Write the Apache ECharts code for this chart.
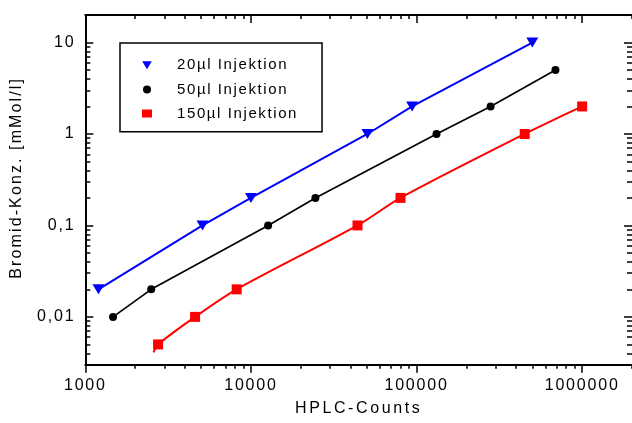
<!DOCTYPE html>
<html><head><meta charset="utf-8">
<script src="https://cdn.jsdelivr.net/npm/echarts@6/dist/echarts.min.js"></script>
<style>html,body{margin:0;padding:0;background:#fff}#c{width:632px;height:423px}</style>
</head><body><div id="c"></div>
<script>
// ---- data ----
const s20Name = '20µl Injektion';
const s20Counts = [1200, 5100, 10000, 50500, 94000, 500000];
const s20Conc   = [0.02, 0.1, 0.2, 1, 2, 10];

const s50Name = '50µl Injektion';
const s50Counts = [1470, 2500, 12700, 24500, 132000, 280000, 690000];
const s50Conc   = [0.01, 0.02, 0.1, 0.2, 1, 2, 5];

const s150Name = '150µl Injektion';
const s150Counts = [2750, 4600, 8200, 44000, 80000, 450000, 1000000];
const s150Conc   = [0.005, 0.01, 0.02, 0.1, 0.2, 1, 2];
// fitted curve for 150µl (starts slightly below the first point)
const s150FitCounts = [2580, 2750, 4600, 8200, 44000, 80000, 450000, 1000000];
const s150FitConc   = [0.0041, 0.005, 0.01, 0.02, 0.1, 0.2, 1, 2];

const xTickValues = [1000, 10000, 100000, 1000000];
const xTickLabels = ['1000', '10000', '100000', '1000000'];
const yTickValues = [0.01, 0.1, 1, 10];
const yTickLabels = ['0,01', '0,1', '1', '10'];

const xTitle = 'HPLC-Counts';
const yTitle = 'Bromid-Konz. [mMol/l]';

// ---- letter spacing like the reference typography ----
(function () {
  const proto = CanvasRenderingContext2D.prototype;
  const d = Object.getOwnPropertyDescriptor(proto, 'font');
  if (!d || !('letterSpacing' in proto)) return;
  const map = { '15': '1.6px', '16': '1.8px', '16.01': '2.6px', '16.02': '2.1px' };
  Object.defineProperty(proto, 'font', {
    configurable: true,
    get() { return d.get.call(this); },
    set(v) {
      d.set.call(this, v);
      const m = /([\d.]+)px/.exec(v);
      this.letterSpacing = (m && map[m[1]]) || '0px';
    }
  });
})();

const X_MIN = 1000, X_MAX = 2000000, Y_MIN = 0.003, Y_MAX = 20;
function minorTicks(lo, hi) {
  const out = [];
  for (let d = Math.pow(10, Math.floor(Math.log10(lo))); d < hi * 10; d *= 10) {
    for (let k = 2; k <= 9; k++) {
      const v = +(k * d).toPrecision(6);
      if (v >= lo && v <= hi) out.push(v);
    }
  }
  return out;
}
const xMinor = minorTicks(X_MIN, X_MAX);
const yMinor = minorTicks(Y_MIN, Y_MAX);

function lookup(vals, labels, v) {
  for (let i = 0; i < vals.length; i++) {
    if (Math.abs(Math.log10(v / vals[i])) < 1e-6) return labels[i];
  }
  return '';
}

const FONT = 'Liberation Sans';
const tickLine = { color: '#000', width: 1.5 };

function axisPair(kind, position, inside, withLabels) {
  const isX = kind === 'x';
  const lo = isX ? X_MIN : Y_MIN, hi = isX ? X_MAX : Y_MAX;
  const major = isX ? xTickValues : yTickValues;
  const minor = isX ? xMinor : yMinor;
  const main = {
    type: 'log', position, min: lo, max: hi,
    axisLine: { show: position !== 'right', lineStyle: { color: '#000', width: 2 } },
    axisTick: { show: true, inside, length: 8, customValues: major, lineStyle: tickLine },
    axisLabel: withLabels ? {
      show: true, customValues: major, margin: isX ? 12 : 10,
      fontFamily: FONT, fontSize: 16, color: '#000',
      formatter: (v) => isX ? lookup(xTickValues, xTickLabels, v) : lookup(yTickValues, yTickLabels, v)
    } : { show: false },
    splitLine: { show: false }, minorTick: { show: false }, minorSplitLine: { show: false }
  };
  const sub = {
    type: 'log', position, min: lo, max: hi,
    axisLine: { show: false },
    axisTick: { show: true, inside, length: isX ? 4 : 5, customValues: minor, lineStyle: tickLine },
    axisLabel: { show: false },
    splitLine: { show: false }, minorTick: { show: false }
  };
  return [main, sub];
}

const xAxes = [...axisPair('x', 'bottom', false, true), ...axisPair('x', 'top', true, false)];
const yAxes = [...axisPair('y', 'left', true, true), ...axisPair('y', 'right', true, false)];
Object.assign(xAxes[0], {
  name: xTitle, nameLocation: 'middle', nameGap: 33,
  nameTextStyle: { fontFamily: FONT, fontSize: 16.01, color: '#000' }
});
Object.assign(yAxes[0], {
  name: yTitle, nameLocation: 'middle', nameGap: 50,
  nameTextStyle: { fontFamily: FONT, fontSize: 16.02, color: '#000', padding: [0, 0, 0, 24] }
});

const pairs = (xs, ys) => xs.map((x, i) => [x, ys[i]]);
const TRI = 'path://M0,0L12,0L6,10Z';

const option = {
  animation: false,
  backgroundColor: '#fff',
  grid: { left: 81, right: -1, top: 15, bottom: 51.3, containLabel: false },
  xAxis: xAxes,
  yAxis: yAxes,
  legend: {
    orient: 'vertical', left: 120, top: 43,
    selectedMode: false,
    data: [
      { name: s20Name, icon: TRI },
      { name: s50Name, icon: 'circle' },
      { name: s150Name, icon: 'rect' }
    ],
    itemWidth: 10, itemHeight: 8, itemGap: 7.5,
    padding: [14, 24, 10, 22],
    borderColor: '#000', borderWidth: 1.5, borderRadius: 0,
    textStyle: { fontFamily: FONT, fontSize: 15, color: '#000', padding: [0, 0, 0, 20] }
  },
  series: [
    { type: 'line', name: 'fit20', data: pairs(s20Counts, s20Conc), symbol: 'none',
      lineStyle: { color: '#0000ff', width: 2 }, silent: true, z: 2 },
    { type: 'line', name: 'fit50', data: pairs(s50Counts, s50Conc), symbol: 'none',
      lineStyle: { color: '#000', width: 1.7 }, silent: true, z: 2 },
    { type: 'line', name: 'fit150', data: pairs(s150FitCounts, s150FitConc), symbol: 'none', smooth: 0.3,
      lineStyle: { color: '#ff0000', width: 2 }, silent: true, z: 2 },
    { type: 'scatter', name: s20Name, data: pairs(s20Counts, s20Conc), symbol: TRI, symbolSize: [12, 10],
      itemStyle: { color: '#0000ff', opacity: 1 }, z: 3 },
    { type: 'scatter', name: s50Name, data: pairs(s50Counts, s50Conc), symbol: 'circle', symbolSize: 8,
      itemStyle: { color: '#000', opacity: 1 }, z: 3 },
    { type: 'scatter', name: s150Name, data: pairs(s150Counts, s150Conc), symbol: 'rect', symbolSize: 10,
      itemStyle: { color: '#ff0000', opacity: 1 }, z: 3 }
  ]
};

const chart = echarts.init(document.getElementById('c'), null, { renderer: 'canvas' });
chart.setOption(option);
</script>
</body></html>
